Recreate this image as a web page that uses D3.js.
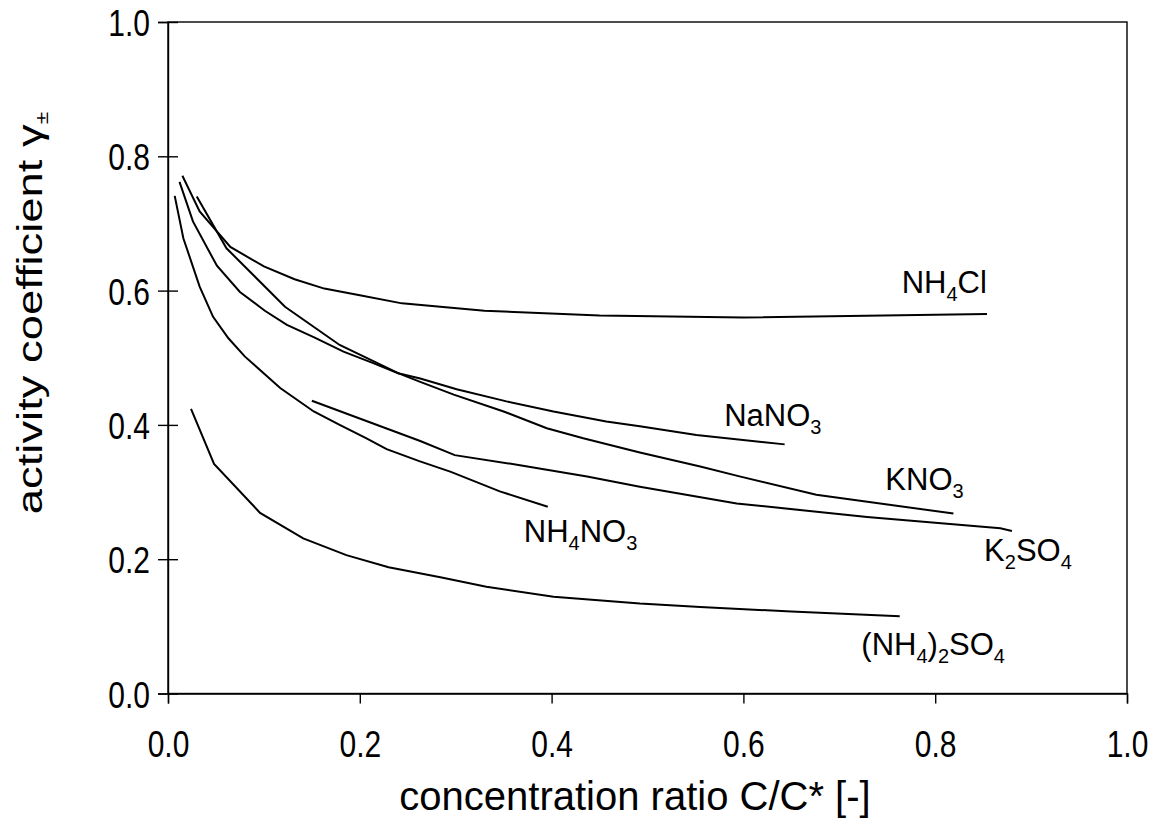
<!DOCTYPE html>
<html>
<head>
<meta charset="utf-8">
<script src="https://cdn.jsdelivr.net/npm/d3@7"></script>
<style>
  html, body { margin: 0; padding: 0; background: #fff; }
  svg { display: block; }
  text { font-family: "Liberation Sans", Arial, sans-serif; fill: #000; }
</style>
</head>
<body>
<svg id="chart" width="1156" height="825"></svg>
<script>
// Mean activity coefficient vs. relative concentration for several salts
const xTicks = [0.0, 0.2, 0.4, 0.6, 0.8, 1.0];
const yTicks = [0.0, 0.2, 0.4, 0.6, 0.8, 1.0];

const nh4cl = [
  [0.015, 0.771], [0.033, 0.718], [0.065, 0.665], [0.100, 0.636], [0.132, 0.617],
  [0.163, 0.603], [0.200, 0.593], [0.244, 0.581], [0.284, 0.576], [0.330, 0.570],
  [0.450, 0.563], [0.600, 0.560], [0.854, 0.565]
];
const nano3 = [
  [0.012, 0.762], [0.026, 0.703], [0.051, 0.637], [0.075, 0.598], [0.101, 0.570],
  [0.124, 0.549], [0.153, 0.530], [0.183, 0.509], [0.214, 0.492], [0.240, 0.477],
  [0.263, 0.469], [0.301, 0.453], [0.353, 0.435], [0.402, 0.420], [0.457, 0.405],
  [0.492, 0.398], [0.551, 0.385], [0.643, 0.371]
];
const kno3 = [
  [0.030, 0.740], [0.061, 0.663], [0.122, 0.576], [0.179, 0.519], [0.240, 0.477],
  [0.263, 0.464], [0.298, 0.445], [0.350, 0.420], [0.395, 0.395], [0.433, 0.380],
  [0.492, 0.359], [0.555, 0.338], [0.597, 0.323], [0.676, 0.296], [0.819, 0.268]
];
const k2so4 = [
  [0.150, 0.436], [0.263, 0.376], [0.299, 0.355], [0.367, 0.340], [0.437, 0.323],
  [0.492, 0.308], [0.593, 0.283], [0.729, 0.263], [0.868, 0.246], [0.880, 0.242]
];
const nh4no3 = [
  [0.007, 0.741], [0.016, 0.678], [0.033, 0.606], [0.047, 0.561], [0.063, 0.529],
  [0.080, 0.502], [0.117, 0.455], [0.152, 0.420], [0.179, 0.400], [0.207, 0.380],
  [0.228, 0.364], [0.262, 0.346], [0.295, 0.330], [0.346, 0.301], [0.396, 0.278]
];
const nh42so4 = [
  [0.024, 0.424], [0.048, 0.342], [0.096, 0.269], [0.141, 0.231], [0.186, 0.206],
  [0.230, 0.188], [0.284, 0.173], [0.332, 0.159], [0.402, 0.144], [0.492, 0.134],
  [0.555, 0.129], [0.650, 0.122], [0.763, 0.115]
];

const series = [nh4cl, nano3, kno3, k2so4, nh4no3, nh42so4];

// Curve labels: pieces are [text, isSubscript]; anchor in data units (start, baseline)
const labels = [
  { at: [0.765, 0.597], parts: [["NH", 0], ["4", 1], ["Cl", 0]] },
  { at: [0.580, 0.399], parts: [["NaNO", 0], ["3", 1]] },
  { at: [0.748, 0.303], parts: [["KNO", 0], ["3", 1]] },
  { at: [0.371, 0.225], parts: [["NH", 0], ["4", 1], ["NO", 0], ["3", 1]] },
  { at: [0.851, 0.197], parts: [["K", 0], ["2", 1], ["SO", 0], ["4", 1]] },
  { at: [0.723, 0.058], parts: [["(NH", 0], ["4", 1], [")", 0], ["2", 1], ["SO", 0], ["4", 1]] }
];

const svg = d3.select("#chart");
const plotL = 168, plotR = 1127, plotT = 22, plotB = 693.5;

const x = d3.scaleLinear().domain([0, 1]).range([plotL, plotR]);
const y = d3.scaleLinear().domain([0, 1]).range([plotB, plotT]);

// frame
svg.append("rect")
  .attr("x", plotL).attr("y", plotT)
  .attr("width", plotR - plotL).attr("height", plotB - plotT)
  .attr("fill", "none").attr("stroke", "#000").attr("stroke-width", 1.4);

// x axis: outward ticks, tall tick numerals
const xAxis = svg.append("g")
  .attr("transform", `translate(0,${plotB})`)
  .call(d3.axisBottom(x).tickValues(xTicks).tickFormat(d3.format(".1f")).tickSize(10));
xAxis.select(".domain").attr("stroke-width", 1.4);
xAxis.selectAll(".tick line").attr("stroke-width", 1.4);
xAxis.selectAll(".tick text")
  .attr("font-size", 30)
  .attr("font-family", "Liberation Sans, Arial, sans-serif")
  .attr("y", 0).attr("dy", null)
  .attr("transform", "translate(0,63.5) scale(1,1.25)");

// y axis: ticks cross the axis line
const yAxis = svg.append("g")
  .attr("transform", `translate(${plotL},0)`)
  .call(d3.axisLeft(y).tickValues(yTicks).tickFormat(d3.format(".1f")).tickSize(10));
yAxis.select(".domain").attr("stroke-width", 1.4);
yAxis.selectAll(".tick line").attr("x2", 10).attr("x1", -10).attr("stroke-width", 1.4);
yAxis.selectAll(".tick text")
  .attr("font-size", 30)
  .attr("font-family", "Liberation Sans, Arial, sans-serif")
  .attr("x", 0).attr("dy", "0.36em")
  .attr("transform", "translate(-18,0) scale(1,1.25)");

// curves
const line = d3.line().x(d => x(d[0])).y(d => y(d[1]));
svg.append("g").selectAll("path")
  .data(series)
  .join("path")
  .attr("d", line)
  .attr("fill", "none")
  .attr("stroke", "#000")
  .attr("stroke-width", 2);

// curve labels with chemical subscripts
const lab = svg.append("g").attr("font-size", 31);
labels.forEach(l => {
  const t = lab.append("text").attr("x", x(l.at[0])).attr("y", y(l.at[1]));
  let shifted = false;
  l.parts.forEach(([s, sub]) => {
    const ts = t.append("tspan").text(s);
    if (sub && !shifted) { ts.attr("font-size", 20).attr("dy", 8); shifted = true; }
    else if (sub) { ts.attr("font-size", 20); }
    else if (shifted) { ts.attr("dy", -8); shifted = false; }
  });
});

// axis titles
svg.append("text")
  .attr("x", 635).attr("y", 810)
  .attr("text-anchor", "middle")
  .attr("font-size", 40)
  .text("concentration ratio C/C* [-]");

const yt = svg.append("text")
  .attr("transform", "translate(42,313) rotate(-90) scale(1.26,1)")
  .attr("text-anchor", "middle")
  .attr("font-size", 36);
yt.append("tspan").text("activity coefficient ");
yt.append("tspan").text("γ");
yt.append("tspan").attr("font-size", 18).attr("dy", 6).text("±");
</script>
</body>
</html>
